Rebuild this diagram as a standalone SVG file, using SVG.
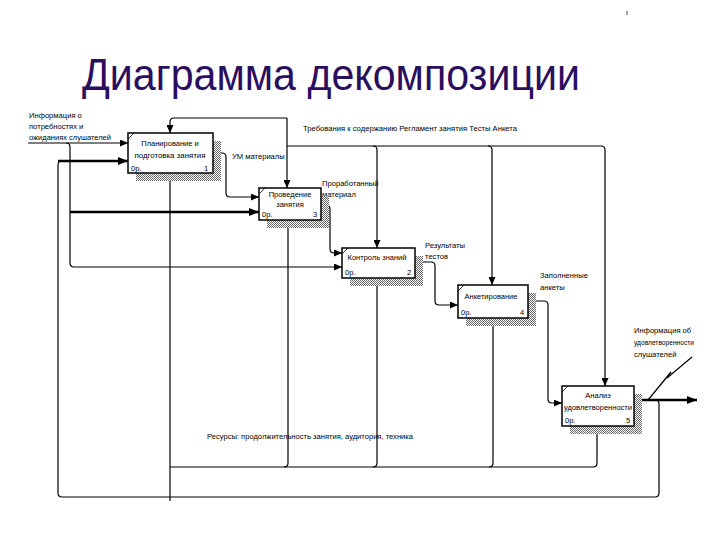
<svg xmlns="http://www.w3.org/2000/svg" width="720" height="540" viewBox="0 0 720 540">
<defs>
<pattern id="hatch" width="2" height="2" patternUnits="userSpaceOnUse">
<rect width="2" height="2" fill="#ffffff"/>
<rect width="1" height="1" fill="#666666"/>
<rect x="1" y="1" width="1" height="1" fill="#666666"/>
</pattern>
<marker id="ar" markerUnits="userSpaceOnUse" markerWidth="8" markerHeight="7" refX="8" refY="3.5" orient="auto">
<path d="M0,0 L8,3.5 L0,7 z" fill="#000"/>
</marker>
<marker id="arT" markerUnits="userSpaceOnUse" markerWidth="10" markerHeight="8" refX="10" refY="4" orient="auto">
<path d="M0,0 L10,4 L0,8 z" fill="#000"/>
</marker>
</defs>
<style>
.box{fill:#fff;stroke:#000;stroke-width:1.5}
.sh{fill:url(#hatch)}
.bt{font-family:"Liberation Sans",Arial,sans-serif;font-size:7.5px;fill:#000}
.lb{font-family:"Liberation Sans",Arial,sans-serif;font-size:7.6px;fill:#000}
.c{fill:none;stroke:#000;stroke-width:1.2}
.t{fill:none;stroke:#000;stroke-width:2.6}
.cm{stroke:#000;stroke-width:0.8}
</style>
<rect width="720" height="540" fill="#fff"/>
<line x1="627" y1="11" x2="627" y2="15" stroke="#444" stroke-width="1"/>
<text x="82" y="90" font-family="'Liberation Sans',Arial,sans-serif" font-size="45" fill="#2b0f5f" textLength="498" lengthAdjust="spacingAndGlyphs">Диаграмма декомпозиции</text>

<g id="connectors">
<path class="c" d="M28,143 H128" marker-end="url(#ar)"/>
<path class="c" d="M66,143 Q70,143 70,147 V263 Q70,267 74,267 H342" marker-end="url(#ar)"/>
<path class="t" d="M70,212 H259" marker-end="url(#arT)"/>
<path class="t" d="M634,400 H697" marker-end="url(#arT)"/>
<path class="c" d="M655,400 Q659,400 659,404 V493 Q659,497 655,497 H62 Q58,497 58,493 V165 Q58,161 62,161"/>
<path class="t" d="M58,161 H128" marker-end="url(#arT)"/>
<path class="c" d="M213,153 H222 Q226,153 226,157 V193 Q226,197 230,197 H259" marker-end="url(#ar)"/>
<path class="c" d="M321,205 H326 Q330,205 330,209 V249 Q330,253 334,253 H342" marker-end="url(#ar)"/>
<path class="c" d="M415,262 H431 Q435,262 435,266 V301 Q435,305 439,305 H458" marker-end="url(#ar)"/>
<path class="c" d="M528,301 H544 Q548,301 548,305 V399 Q548,403 552,403 H562" marker-end="url(#ar)"/>
<path class="c" d="M287,118 V188" marker-end="url(#ar)"/>
<path class="c" d="M287,118 H174 Q170,118 170,122 V133" marker-end="url(#ar)"/>
<path class="c" d="M287,146 H601 Q605,146 605,150 V386" marker-end="url(#ar)"/>
<path class="c" d="M373,146 Q377,146 377,150 V248" marker-end="url(#ar)"/>
<path class="c" d="M488,146 Q492,146 492,150 V285" marker-end="url(#ar)"/>
<path class="c" d="M170,501 V173" marker-end="url(#ar)"/>
<path class="c" d="M170,467 H593 Q597,467 597,463 V426" marker-end="url(#ar)"/>
<path class="c" d="M284,467 Q288,467 288,463 V220" marker-end="url(#ar)"/>
<path class="c" d="M373,467 Q377,467 377,463 V278" marker-end="url(#ar)"/>
<path class="c" d="M489,467 Q493,467 493,463 V318" marker-end="url(#ar)"/>
<path class="c" d="M692,357 L667,378 L671,372 L648,400"/>
</g>

<g id="labels">
<text class="lb" x="29" y="118">Информация о</text>
<text class="lb" x="29" y="129">потребностях и</text>
<text class="lb" x="29" y="140" textLength="82" lengthAdjust="spacingAndGlyphs">ожиданиях слушателей</text>
<text class="lb" x="232" y="159">УМ материалы</text>
<text class="lb" x="303" y="131" textLength="214" lengthAdjust="spacingAndGlyphs">Требования к содержанию Регламент занятия Тесты Анкета</text>
<text class="lb" x="322" y="186">Проработанный</text>
<text class="lb" x="322" y="197">материал</text>
<text class="lb" x="425" y="248">Результаты</text>
<text class="lb" x="425" y="259">тестов</text>
<text class="lb" x="540" y="278">Заполненные</text>
<text class="lb" x="540" y="290">анкеты</text>
<text class="lb" x="634" y="333">Информация об</text>
<text class="lb" x="634" y="345" textLength="60" lengthAdjust="spacingAndGlyphs">удовлетворенности</text>
<text class="lb" x="634" y="357">слушателей</text>
<text class="lb" x="207" y="439" textLength="206" lengthAdjust="spacingAndGlyphs">Ресурсы: продолжительность занятия, аудитория, техника</text>
</g>

<g id="node1">
<rect class="sh" x="136" y="141" width="85" height="40"/>
<rect class="box" x="128" y="133" width="85" height="40"/>
<line class="cm" x1="128" y1="139" x2="134" y2="133"/>
<text class="bt" x="170" y="146" text-anchor="middle">Планирование и</text>
<text class="bt" x="170" y="158" text-anchor="middle" textLength="71" lengthAdjust="spacingAndGlyphs">подготовка занятия</text>
<text class="bt" x="131" y="171">0р.</text>
<text class="bt" x="204" y="171">1</text>
</g>

<g id="node2">
<rect class="sh" x="267" y="196" width="62" height="32"/>
<rect class="box" x="259" y="188" width="62" height="32"/>
<line class="cm" x1="259" y1="194" x2="265" y2="188"/>
<text class="bt" x="290" y="197" text-anchor="middle">Проведение</text>
<text class="bt" x="290" y="207" text-anchor="middle">занятия</text>
<text class="bt" x="262" y="217">0р.</text>
<text class="bt" x="313" y="217">3</text>
</g>

<g id="node3">
<rect class="sh" x="350" y="256" width="73" height="30"/>
<rect class="box" x="342" y="248" width="73" height="30"/>
<line class="cm" x1="342" y1="254" x2="348" y2="248"/>
<text class="bt" x="377" y="260" text-anchor="middle">Контроль знаний</text>
<text class="bt" x="345" y="275">0р.</text>
<text class="bt" x="407" y="275">2</text>
</g>

<g id="node4">
<rect class="sh" x="466" y="293" width="70" height="33"/>
<rect class="box" x="458" y="285" width="70" height="33"/>
<line class="cm" x1="458" y1="291" x2="464" y2="285"/>
<text class="bt" x="491" y="299" text-anchor="middle">Анкетирование</text>
<text class="bt" x="461" y="315">0р.</text>
<text class="bt" x="520" y="315">4</text>
</g>

<g id="node5">
<rect class="sh" x="570" y="394" width="72" height="40"/>
<rect class="box" x="562" y="386" width="72" height="40"/>
<line class="cm" x1="562" y1="392" x2="568" y2="386"/>
<text class="bt" x="598" y="398" text-anchor="middle">Анализ</text>
<text class="bt" x="598" y="410" text-anchor="middle" textLength="68" lengthAdjust="spacingAndGlyphs">удовлетворенности</text>
<text class="bt" x="565" y="423">0р.</text>
<text class="bt" x="626" y="423">5</text>
</g>
</svg>
